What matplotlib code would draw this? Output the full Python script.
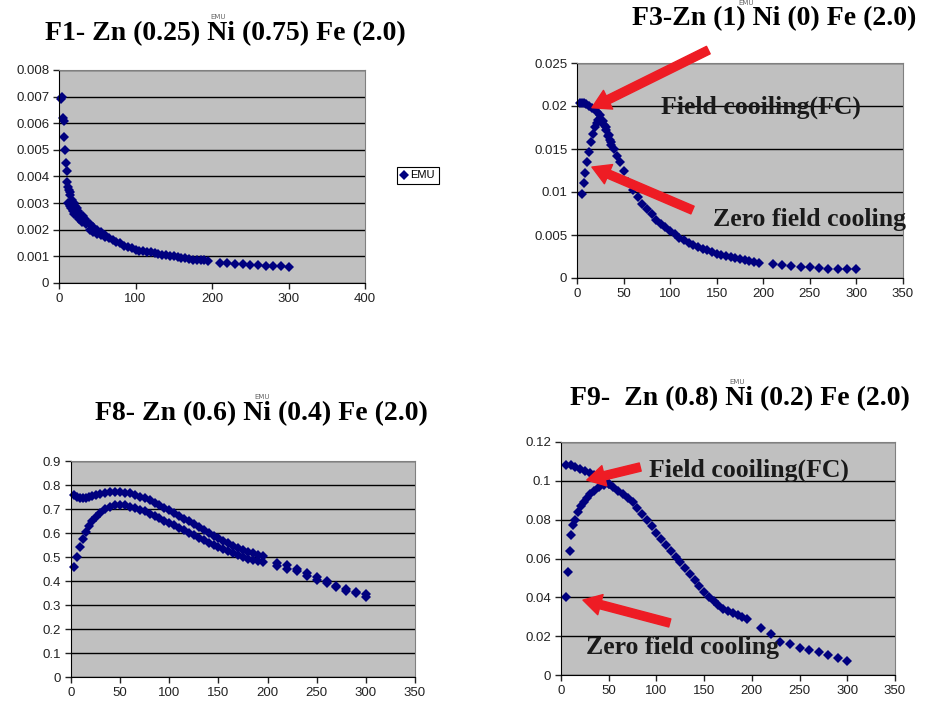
import matplotlib as mpl
import numpy as np

mpl.use('Agg')
from matplotlib import pyplot as plt

# F1- Zn(0.25) Ni(0.75) Fe(2.0): temperature (K), EMU
f1_t = [3, 4, 5, 6, 7, 8, 9, 10, 11, 12, 13, 14, 15, 17, 19, 21, 23, 25, 28,
        31, 34, 37, 40, 45, 50, 55, 60, 65, 70, 75, 80, 85, 90, 95, 100, 105,
        110, 115, 120, 125, 130, 135, 140, 145, 150, 155, 160, 165, 170, 175,
        180, 185, 190, 195, 210, 220, 230, 240, 250, 260, 270, 280, 290, 300]
f1_emu = [0.0069, 0.0070, 0.0062, 0.0061, 0.0055, 0.0050, 0.0045, 0.0042,
          0.0038, 0.0036, 0.0035, 0.0034, 0.0033, 0.0031, 0.0030, 0.0029,
          0.0028, 0.0027, 0.0026, 0.0025, 0.0024, 0.0023, 0.0022, 0.0021,
          0.0020, 0.0019, 0.0018, 0.0017, 0.0016, 0.00155, 0.0015, 0.0014,
          0.00135, 0.0013, 0.00125, 0.00122, 0.0012, 0.00117, 0.00115,
          0.00112, 0.0011, 0.00107, 0.00105, 0.00102, 0.0010, 0.00097,
          0.00095, 0.00093, 0.0009, 0.00088, 0.00087, 0.00086, 0.00085,
          0.00083, 0.00075, 0.00074, 0.00072, 0.0007, 0.00069, 0.00067,
          0.00065, 0.00064, 0.00063, 0.0006]
f1_low_t = [12, 14, 16, 18, 20, 23, 26, 30, 35, 40, 45, 50, 55, 60]
f1_low_emu = [0.0030, 0.0029, 0.0028, 0.0027, 0.0026, 0.0025, 0.0024, 0.0023,
              0.0022, 0.0020, 0.0019, 0.00185, 0.0018, 0.00172]

# F3-Zn(1) Ni(0) Fe(2.0)
f3_fc_t = [3, 5, 8, 10, 13, 16, 19, 22, 25, 28, 31, 34, 37, 40, 43, 46, 50,
           55, 60, 65, 70, 75, 80, 85, 90, 95, 100, 105, 110, 115, 120, 125,
           130, 135, 140, 145, 150, 155, 160, 165, 170, 175, 180, 185, 190,
           195, 210, 220, 230, 240, 250, 260, 270, 280, 290, 300]
f3_fc_emu = [0.0203, 0.0204, 0.0203, 0.0202, 0.0200, 0.0198, 0.0196, 0.0193,
             0.0189, 0.0183, 0.0175, 0.0166, 0.0158, 0.0150, 0.0142, 0.0135,
             0.0124, 0.0112, 0.0102, 0.0094, 0.0086, 0.0080, 0.0074, 0.0068,
             0.0063, 0.0059, 0.0055, 0.0051, 0.0047, 0.0044, 0.0041, 0.0038,
             0.0036, 0.0034, 0.0032, 0.0030, 0.0028, 0.0027, 0.0026, 0.0024,
             0.0023, 0.0022, 0.0021, 0.0020, 0.0019, 0.0018, 0.0016, 0.0015,
             0.0014, 0.0013, 0.0013, 0.0012, 0.0011, 0.0011, 0.0011, 0.0010]
f3_zfc_t = [5, 7, 9, 11, 13, 15, 17, 19, 21, 23, 25, 27, 29, 31, 33, 35, 37]
f3_zfc_emu = [0.0098, 0.0110, 0.0122, 0.0135, 0.0147, 0.0158, 0.0167, 0.0175,
              0.0180, 0.0184, 0.0185, 0.0183, 0.0178, 0.0172, 0.0165, 0.0160,
              0.0155]

# F8- Zn(0.6) Ni(0.4) Fe(2.0)
f8_t = [3, 6, 9, 12, 15, 18, 21, 25, 30, 35, 40, 45, 50, 55, 60, 65, 70, 75,
        80, 85, 90, 95, 100, 105, 110, 115, 120, 125, 130, 135, 140, 145, 150,
        155, 160, 165, 170, 175, 180, 185, 190, 195, 210, 220, 230, 240, 250,
        260, 270, 280, 290, 300]
f8_fc = [0.757, 0.752, 0.746, 0.744, 0.746, 0.750, 0.754, 0.758, 0.763, 0.767,
         0.769, 0.770, 0.770, 0.768, 0.765, 0.759, 0.752, 0.745, 0.736, 0.726,
         0.716, 0.706, 0.695, 0.683, 0.671, 0.659, 0.648, 0.636, 0.625, 0.613,
         0.600, 0.589, 0.578, 0.568, 0.557, 0.547, 0.538, 0.530, 0.521, 0.515,
         0.510, 0.505, 0.475, 0.465, 0.450, 0.435, 0.415, 0.400, 0.380, 0.365,
         0.355, 0.345]
f8_zfc = [0.458, 0.500, 0.540, 0.575, 0.605, 0.630, 0.650, 0.668, 0.685,
          0.700, 0.710, 0.715, 0.717, 0.715, 0.710, 0.704, 0.697, 0.690, 0.681,
          0.672, 0.662, 0.652, 0.642, 0.632, 0.621, 0.611, 0.601, 0.590, 0.580,
          0.570, 0.560, 0.550, 0.541, 0.532, 0.523, 0.515, 0.508, 0.500, 0.493,
          0.487, 0.482, 0.478, 0.462, 0.450, 0.440, 0.420, 0.405, 0.390, 0.375,
          0.360, 0.350, 0.335]

# F9- Zn(0.8) Ni(0.2) Fe(2.0)
f9_fc_t = [5, 10, 15, 20, 25, 30, 35, 40, 45, 50, 55, 60, 65, 70, 75, 80, 85,
           90, 95, 100, 105, 110, 115, 120, 125, 130, 135, 140, 145, 150, 155,
           160, 165, 170, 175, 180, 185, 190, 195, 210, 220, 230, 240, 250,
           260, 270, 280, 290, 300]
f9_fc_emu = [0.108, 0.108, 0.107, 0.106, 0.105, 0.104, 0.103, 0.1015, 0.1,
             0.0985, 0.097, 0.095, 0.093, 0.091, 0.089, 0.086, 0.083, 0.080,
             0.0765, 0.073, 0.070, 0.067, 0.064, 0.061, 0.058, 0.055, 0.052,
             0.049, 0.046, 0.043, 0.040, 0.038, 0.036, 0.034, 0.033, 0.032,
             0.031, 0.030, 0.029, 0.024, 0.021, 0.017, 0.016, 0.014, 0.013,
             0.012, 0.0105, 0.009, 0.007]
f9_zfc_t = [5, 7, 9, 11, 13, 15, 18, 21, 24, 27, 30, 35, 40, 45, 50]
f9_zfc_emu = [0.040, 0.053, 0.064, 0.072, 0.077, 0.080, 0.084, 0.087, 0.089,
              0.091, 0.093, 0.095, 0.097, 0.098, 0.0985]

NAVY = '#00007f'
RED = '#ee1c24'


def excel_axes(fig, rect, ymax, ystep, xmax, xstep):
    ax = fig.add_axes(rect)
    ax.set_facecolor('#c0c0c0')
    ax.set_xlim(0, xmax)
    ax.set_ylim(0, ymax)
    ax.set_xticks(np.arange(0, xmax + 1, xstep))
    yt = np.arange(0, ymax + ystep / 2, ystep)
    ax.set_yticks(yt)
    ax.set_yticklabels([fmt_plain(v) for v in yt])
    ax.yaxis.grid(True, color='black', linewidth=1.0)
    ax.set_axisbelow(True)
    for s in ['top', 'right']:
        ax.spines[s].set_color('#808080')
    for s in ['left', 'bottom']:
        ax.spines[s].set_color('black')
    ax.tick_params(direction='out', length=4, width=1, labelsize=9.5,
                   colors='#222222', pad=3)
    for lab in ax.get_xticklabels() + ax.get_yticklabels():
        lab.set_family('Liberation Sans')
    return ax


def dots(ax, x, y, label=None):
    ax.plot(x, y, linestyle='none', marker='D', markersize=4.8,
            color=NAVY, markeredgewidth=0, label=label, clip_on=False)


def arrow(ax, tail, head):
    ax.annotate('', xy=head, xytext=tail, annotation_clip=False,
                arrowprops=dict(arrowstyle='simple,head_length=1.3,head_width=1.5,tail_width=0.6',
                                color=RED, shrinkA=0, shrinkB=0))


def fmt_plain(v):
    s = ('%.3f' % v).rstrip('0').rstrip('.')
    return s if s else '0'


fig = plt.figure(figsize=(9.27, 7.07), dpi=100)
title_font = dict(family='Liberation Serif', weight='bold', fontsize=20,
                  ha='center', va='center')
note_font = dict(family='Liberation Serif', weight='bold', fontsize=18.5,
                 ha='center', va='center', color='#1a1a1a', clip_on=False)
emu_font = dict(fontsize=5, color='#666666', ha='center', va='bottom')

# F1
ax1 = excel_axes(fig, [59 / 927, 1 - 283 / 707, 306 / 927, 213 / 707],
                 0.008, 0.001, 400, 100)
dots(ax1, f1_t, f1_emu, label='EMU')
dots(ax1, f1_low_t, f1_low_emu)
leg = ax1.legend(loc='center left', bbox_to_anchor=(1.085, 0.505),
                 handlelength=0.6, handletextpad=0.3, borderpad=0.35,
                 fancybox=False, edgecolor='black', framealpha=1,
                 prop={'family': 'Liberation Sans', 'size': 8})
leg.get_frame().set_linewidth(0.8)
fig.text(225 / 927, 1 - 34 / 707, 'F1- Zn (0.25) Ni (0.75) Fe (2.0)', **title_font)
fig.text(218 / 927, 1 - 20 / 707, 'EMU', **emu_font)

# F3
ax3 = excel_axes(fig, [577 / 927, 1 - 278 / 707, 326 / 927, 215 / 707],
                 0.025, 0.005, 350, 50)
dots(ax3, f3_fc_t, f3_fc_emu)
dots(ax3, f3_zfc_t, f3_zfc_emu)
fig.text(774 / 927, 1 - 19 / 707, 'F3-Zn (1) Ni (0) Fe (2.0)', **title_font)
fig.text(746 / 927, 1 - 6 / 707, 'EMU', **emu_font)
ax3.text(197, 0.0199, 'Field cooiling(FC)', **note_font)
ax3.text(250, 0.0068, 'Zero field cooling', **note_font)
arrow(ax3, (141, 0.0265), (16, 0.0198))
arrow(ax3, (124, 0.0079), (16, 0.0129))

# F8
ax8 = excel_axes(fig, [71 / 927, 1 - 677 / 707, 344 / 927, 216 / 707],
                 0.9, 0.1, 350, 50)
dots(ax8, f8_t, f8_fc)
dots(ax8, f8_t, f8_zfc)
fig.text(261 / 927, 1 - 414 / 707, 'F8- Zn (0.6) Ni (0.4) Fe (2.0)', **title_font)
fig.text(262 / 927, 1 - 400 / 707, 'EMU', **emu_font)

# F9
ax9 = excel_axes(fig, [561 / 927, 1 - 675 / 707, 334 / 927, 233 / 707],
                 0.12, 0.02, 350, 50)
dots(ax9, f9_fc_t, f9_fc_emu)
dots(ax9, f9_zfc_t, f9_zfc_emu)
fig.text(740 / 927, 1 - 399 / 707, 'F9-  Zn (0.8) Ni (0.2) Fe (2.0)', **title_font)
fig.text(737 / 927, 1 - 385 / 707, 'EMU', **emu_font)
ax9.text(197, 0.1056, 'Field cooiling(FC)', **note_font)
ax9.text(127, 0.0144, 'Zero field cooling', **note_font)
arrow(ax9, (83, 0.1071), (27, 0.1004))
arrow(ax9, (114, 0.0268), (23, 0.0386))

fig.savefig('out.png', dpi=100)
